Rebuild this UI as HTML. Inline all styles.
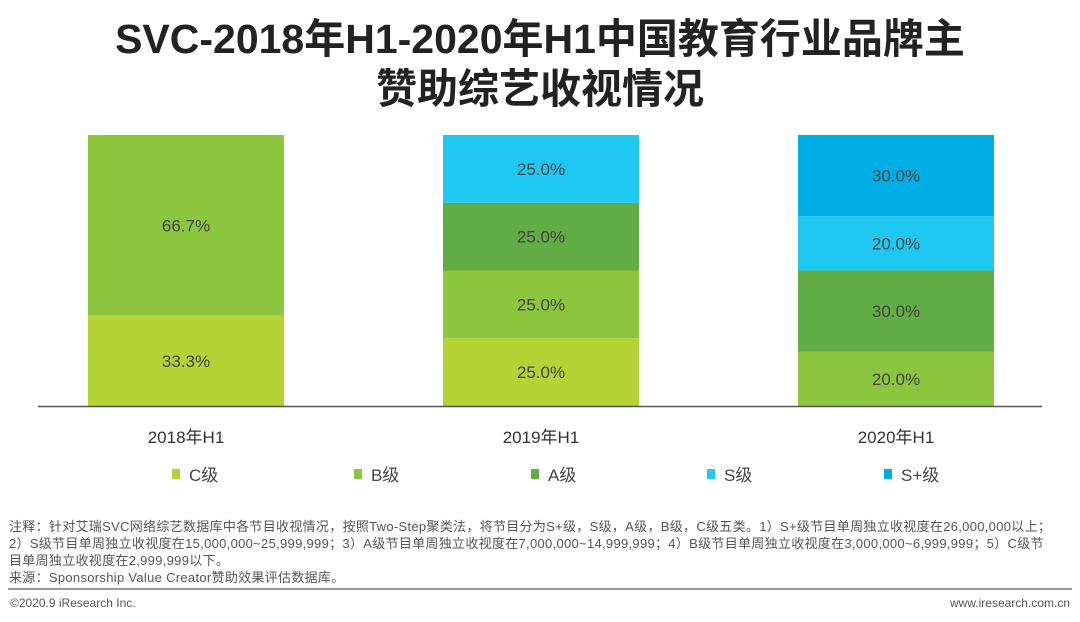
<!DOCTYPE html>
<html><head><meta charset="utf-8"><style>
body{margin:0;width:1080px;height:622px;background:#fff;font-family:"Liberation Sans","Noto Sans CJK SC",sans-serif;overflow:hidden;position:relative}
.t{position:absolute;left:0;width:1080px;text-align:center;font-weight:bold;font-size:41px;color:#222;line-height:50px}
.note{position:absolute;left:9px;width:1070px;font-size:13px;color:#555;line-height:17px;top:518px;letter-spacing:0.3px;white-space:nowrap}
.ft{position:absolute;top:596px;font-size:12px;color:#555}
</style></head><body>
<div class="t" style="top:14px">SVC-2018年H1-2020年H1中国教育行业品牌主<br>赞助综艺收视情况</div>
<svg id="c" width="1080" height="510" style="position:absolute;left:0;top:0"></svg>
<div class="note">注释：针对艾瑞SVC网络综艺数据库中各节目收视情况，按照Two-Step聚类法，将节目分为S+级，S级，A级，B级，C级五类。1）S+级节目单周独立收视度在26,000,000以上；<br>2）S级节目单周独立收视度在15,000,000~25,999,999；3）A级节目单周独立收视度在7,000,000~14,999,999；4）B级节目单周独立收视度在3,000,000~6,999,999；5）C级节<br>目单周独立收视度在2,999,999以下。<br>来源：Sponsorship Value Creator赞助效果评估数据库。</div>
<div style="position:absolute;left:8px;top:588px;width:1064px;height:2px;background:#999"></div>
<div class="ft" style="left:10px">©2020.9 iResearch Inc.</div>
<div class="ft" style="right:10px">www.iresearch.com.cn</div>
<script>
const categories=["2018年H1","2019年H1","2020年H1"];
const seriesNames=["C级","B级","A级","S级","S+级"];
const cVals=[33.3,25.0,0];
const bVals=[66.7,25.0,20.0];
const aVals=[0,25.0,30.0];
const sVals=[0,25.0,20.0];
const spVals=[0,0,30.0];
const colors=["#b5d334","#8cc63f","#62ac45","#1ec8f0","#00aee6"];
const series=[cVals,bVals,aVals,sVals,spVals];
const svg=document.getElementById('c');const NS="http://www.w3.org/2000/svg";
const base=406,top0=135,barW=196;
function y(v){return base-(v/100)*(base-top0);}
function xc(i){return 186+i*355;}
function mk(t,a){const e=document.createElementNS(NS,t);for(const k in a)e.setAttribute(k,a[k]);svg.appendChild(e);return e;}
categories.forEach((cat,i)=>{
  let acc=0;
  series.forEach((s,j)=>{
    const v=s[i];if(!v)return;
    const r=mk('rect',{x:xc(i)-barW/2,y:y(acc+v),width:barW,height:y(acc)-y(acc+v),fill:colors[j]});
    
    
    const t=mk('text',{x:xc(i),y:(y(acc)+y(acc+v))/2+6,'text-anchor':'middle','font-size':17,fill:'#444'});
    t.textContent=v.toFixed(1)+'%';
    
    
    acc+=v;
  });
  const l=mk('text',{x:xc(i),y:443,'text-anchor':'middle','font-size':17,fill:'#333'});
  l.textContent=cat;
  
  
});
const ax=mk('line',{x1:38,x2:1042,y1:406.5,y2:406.5,stroke:'#555','stroke-width':1.5});


const lx=[172,354,531,707,884];
seriesNames.forEach((n,j)=>{
  const r=mk('rect',{x:lx[j],y:469,width:8,height:10,fill:colors[j]});
  
  
  const t=mk('text',{x:lx[j]+17,y:481,'font-size':17,fill:'#444'});
  t.textContent=n;
  
  
});
</script>
</body></html>
